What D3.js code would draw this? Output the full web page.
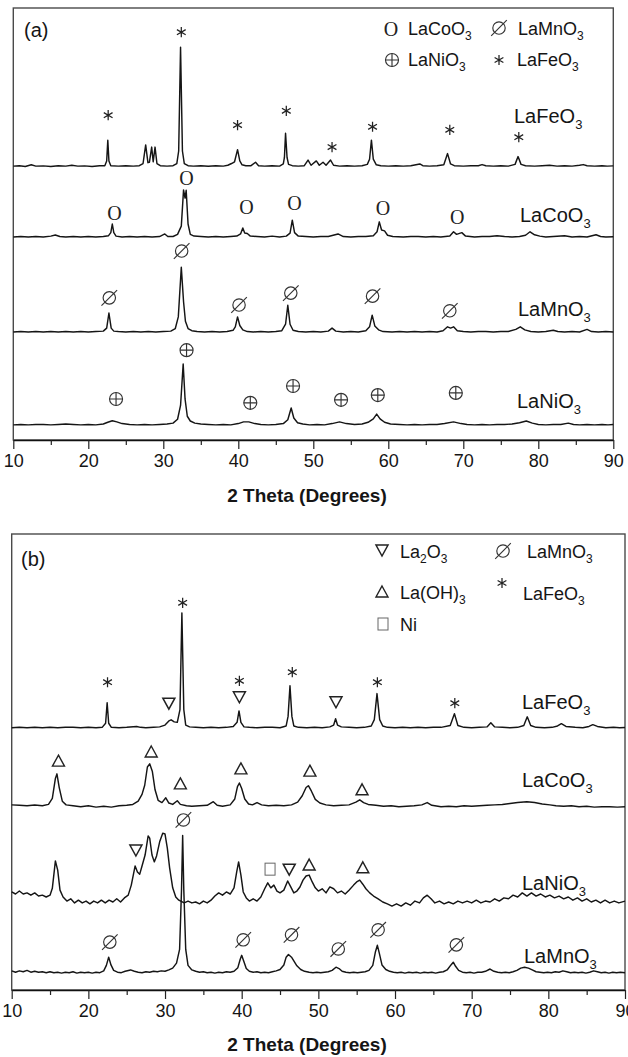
<!DOCTYPE html>
<html>
<head>
<meta charset="utf-8">
<script src="https://cdn.jsdelivr.net/npm/d3@7"></script>
<style>
  html, body { margin: 0; padding: 0; background: #fff; }
  svg { display: block; font-family: "Liberation Sans", Arial, sans-serif; }
</style>
</head>
<body>
<svg id="chart" width="628" height="1057"></svg>
<script>
// ---------- shared axis values ----------
const twoThetaDomain = [10, 90];
const majorTicks = [10, 20, 30, 40, 50, 60, 70, 80, 90];
const minorTicks = [15, 25, 35, 45, 55, 65, 75, 85];
const axisTitle = "2 Theta (Degrees)";

// ---------- panel (a): fresh perovskites ----------
// each pattern: [2θ, intensity above its own background] (a.u.)
const seriesA = ["LaFeO3", "LaCoO3", "LaMnO3", "LaNiO3"];
const offsetsA = [63.4, 47.0, 25.0, 3.5];

const feA = [[10,0],[10.8,0.1],[11.6,-0.1],[12.4,0.3],[13,0],[14,0.05],[15,-0.1],[16,0.1],[17,0],[17.8,0.2],[18.6,0],[19.5,0.05],[20.5,-0.1],[21.5,0.1],[22.2,0.1],[22.45,1.2],[22.6,6.0],[22.75,1.2],[23,0.1],[24,0],[25,0.1],[26,0],[26.8,0.1],[27.3,0.6],[27.65,4.9],[27.95,0.8],[28.15,0.9],[28.45,4.4],[28.65,1.0],[28.9,4.4],[29.15,0.6],[29.6,0.1],[30.5,0],[31.3,0.1],[31.8,0.6],[32.05,3.5],[32.3,27.5],[32.55,3.5],[32.8,0.6],[33.3,0.1],[34,0],[35,0.1],[36,-0.05],[37,0.1],[38,0],[38.6,0.2],[39.1,0.6],[39.5,1.0],[39.9,3.8],[40.2,1.2],[40.5,0.3],[41,0.1],[41.7,0.1],[42.3,0.9],[42.7,0.1],[43.5,0],[44.5,0.1],[45.5,0],[46,0.5],[46.15,2],[46.3,7.6],[46.5,2],[46.7,0.4],[47.2,0.1],[48,0],[48.8,0.1],[49.3,1.4],[49.7,0.2],[50.4,1.2],[50.8,0.2],[51.3,0.9],[51.7,0.2],[52.3,1.4],[52.7,0.2],[53.5,0],[54.5,0.1],[55.5,0],[56.5,0.1],[57.2,0.4],[57.5,1.6],[57.75,6.0],[58,1.6],[58.4,0.3],[59,0.1],[60,0],[61,0.1],[62,0],[63,0.1],[64.2,0.5],[64.6,0.1],[65.5,0],[66.5,0.1],[67.4,0.3],[67.9,2.9],[68.3,0.5],[68.8,0.1],[70,0],[71,0.1],[72,0.1],[72.5,0.35],[73,0.1],[74,0],[75,0.1],[76,0],[76.9,0.4],[77.3,2.2],[77.7,0.4],[78.3,0.1],[79.5,0],[80.5,0.1],[81.5,0.2],[82.5,0],[83.5,0.1],[84.5,0],[85.5,0.2],[86,0.35],[86.5,0.1],[87.5,0],[88.5,0.1],[89.2,0],[90,0.05]];

const coA = [[10,0],[11,0.1],[12,0],[13,0.1],[14,0],[15,0.2],[15.6,0.45],[16.2,0.1],[17,0],[18,0.1],[19,0],[20,0.1],[21,0],[22,0.1],[22.7,0.3],[23,1.0],[23.2,3.0],[23.4,1.0],[23.7,0.2],[24.5,0],[25.5,0.1],[26.5,0],[27.5,0.1],[28.5,0],[29.5,0.1],[30.2,0.7],[30.6,0.1],[31.3,0.1],[31.9,0.6],[32.4,2.5],[32.7,10.9],[32.9,9.0],[33.05,10.8],[33.3,3],[33.6,0.6],[34.1,0.2],[35,0.1],[36,0],[37,0.1],[38,0],[39,0.1],[39.8,0.2],[40.3,0.7],[40.6,2.1],[40.85,0.9],[41.2,0.8],[41.6,0.2],[42.5,0.1],[43.5,0],[44.5,0.2],[45.5,0],[46.4,0.2],[46.9,0.9],[47.2,3.9],[47.5,1.0],[48,0.2],[49,0.1],[50,0],[51,0.1],[52,0.1],[53.3,0.7],[54,0.1],[55,0],[56,0.1],[57,0.1],[58,0.3],[58.5,1.2],[58.8,3.5],[59.1,1.6],[59.5,1.4],[59.9,0.4],[60.6,0.1],[62,0],[63,0.1],[64,0.1],[65,0],[66,0.1],[67,0],[68.2,0.2],[68.7,1.2],[69.1,0.6],[69.8,1.0],[70.3,0.2],[71.5,0],[72.5,0.1],[73.5,0.1],[74.5,0.3],[75.5,0.1],[76.5,0],[77.5,0.1],[78.3,0.4],[78.9,1.2],[79.5,0.5],[80.2,0.2],[81,0],[82,0.1],[83.5,0.3],[84.5,0],[85.5,0.1],[86.5,0],[87.7,0.5],[88.3,0.1],[89,0],[90,0.05]];

const mnA = [[10,0],[11,0.1],[12,0],[13,0.1],[14,0],[15,0.1],[16,0],[17,0.1],[18,0],[19,0.1],[20,0],[21,0.1],[22,0.2],[22.45,0.9],[22.75,4.4],[23.05,0.9],[23.4,0.2],[24,0.1],[25,0],[26,0.1],[27,0],[28,0.1],[29,0],[30,0.1],[31,0.2],[31.6,0.8],[32,3.5],[32.4,15.0],[32.7,7],[32.95,2.5],[33.3,0.8],[33.8,0.3],[34.5,0.1],[35.5,0],[36.5,0.1],[37.5,0],[38.5,0.1],[39.3,0.4],[39.6,1.2],[39.9,3.5],[40.2,1.5],[40.6,0.5],[41.2,0.1],[42,0],[43,0.1],[44,0],[45,0.1],[45.8,0.3],[46.3,1.8],[46.6,6.2],[46.9,1.8],[47.3,0.4],[48,0.1],[49,0],[50,0.1],[51,0],[52,0.2],[52.5,0.9],[53,0.2],[54,0],[55,0.1],[56,0],[57,0.3],[57.5,1.2],[57.85,3.9],[58.2,1.4],[58.7,0.5],[59.3,0.1],[60.5,0],[61.5,0.1],[62.5,0],[63.5,0.1],[64.5,0],[65.5,0.1],[66.5,0],[67.3,0.3],[67.9,1.2],[68.3,0.9],[68.7,1.2],[69.2,0.3],[70,0.1],[71,0],[72,0.1],[73,0.1],[74,0],[75,0.1],[76,0.1],[77,0.6],[77.6,1.2],[78.2,0.5],[79,0.1],[80,0],[81,0.1],[82,0.4],[82.6,0.1],[83.5,0],[84.5,0.1],[85.5,0],[86.5,0.6],[87.1,0.1],[88,0],[89,0.1],[90,0]];

const niA = [[10,0],[11,0.1],[12,0],[13,0.1],[14,0.1],[15,0],[16,0.1],[17,0.2],[18,0.1],[19,0],[20,0.1],[21,0],[22,0.2],[22.6,0.6],[23.2,0.95],[23.8,0.7],[24.5,0.3],[25.5,0.1],[26.5,0],[27.5,0.1],[28.5,0],[29.5,0.1],[30.5,0.2],[31.3,0.4],[31.9,1.3],[32.3,4.5],[32.65,14.1],[32.9,6],[33.2,2.0],[33.6,0.9],[34.2,0.4],[35,0.2],[36,0.1],[37,0],[38,0.1],[39,0],[40,0.3],[40.7,0.7],[41.4,0.7],[42.2,0.3],[43,0.1],[44,0],[45,0.1],[46,0.3],[46.6,1.2],[47.05,3.9],[47.4,1.6],[47.9,0.5],[48.6,0.2],[49.5,0],[50.5,0.1],[51.5,0],[52.5,0.3],[53.5,0.7],[54.4,0.3],[55.5,0.1],[56.5,0.2],[57.3,0.6],[58,1.4],[58.45,2.5],[58.9,1.4],[59.5,0.6],[60.3,0.2],[61.5,0.1],[62.5,0],[63.5,0.1],[64.5,0],[65.5,0.1],[66.5,0.1],[67.5,0.3],[68.7,0.7],[69.7,0.3],[70.5,0.1],[71.5,0],[72.5,0.1],[73.5,0],[74.5,0.1],[75.5,0.1],[76.5,0.2],[77.5,0.5],[78.4,0.9],[79.2,0.4],[80,0.1],[81,0],[82,0.1],[83,0.1],[84,0.4],[84.7,0.1],[85.5,0],[86.5,0.1],[87.5,0],[88.5,0.1],[89.3,0],[90,0.1]];

// reflection markers, panel (a): [2θ, level] (a.u.)
const starA = [[22.65,75.2],[32.4,94.4],[39.9,72.9],[46.4,76.2],[52.5,67.8],[57.9,72.5],[68.2,71.8],[77.4,70.1]];
const ringA = [[23.5,52.5],[33.1,60.6],[41.1,53.9],[47.5,54.9],[59.3,53.7],[69.2,51.6]];
const slashA = [[22.8,32.9],[32.45,43.75],[40.1,31.25],[47.0,34.0],[57.9,33.3],[68.2,29.9]];
const oplusA = [[23.7,9.5],[33.1,20.8],[41.6,8.6],[47.3,12.5],[53.7,9.3],[58.6,10.4],[69.0,10.9]];

// ---------- panel (b): after reaction ----------
const seriesB = ["LaFeO3", "LaCoO3", "LaNiO3", "LaMnO3"];
const offsetsB = [57.5, 40.4, 19.3, 3.9];

const feB = [[10,0],[11,0.1],[12,0],[13,0.1],[14,0],[15,0.1],[16,0],[17,0.1],[18,0.1],[19,0],[20,0.1],[21,0],[21.8,0.1],[22.25,1.0],[22.45,5.5],[22.65,1.0],[23,0.1],[24,0],[25,0.1],[26.3,0.3],[26.8,0.1],[27.5,0],[28.5,0.1],[29.3,0.2],[30,0.6],[30.5,1.5],[30.8,1.75],[31.2,1.3],[31.6,1.2],[31.95,4],[32.2,25.2],[32.45,4],[32.7,0.6],[33.2,0.2],[34,0.1],[35,0],[36,0.1],[37,0],[38,0.1],[38.9,0.3],[39.4,1.2],[39.65,3.7],[39.9,1.2],[40.3,0.2],[41,0.1],[42,0],[43,0.1],[44,0.1],[45,0],[45.8,0.4],[46.05,2.5],[46.3,9.2],[46.55,2.5],[46.8,0.4],[47.4,0.1],[48.5,0],[49.5,0.1],[50.5,0],[51.5,0.2],[52,0.6],[52.25,2.0],[52.5,0.6],[53,0.2],[54,0.1],[55,0],[56,0.1],[56.9,0.4],[57.3,1.8],[57.65,7.5],[58,1.8],[58.4,0.4],[59,0.1],[60,0],[61,0.1],[62,0],[63,0.1],[64,0],[65,0.1],[66,0.1],[67.2,0.5],[67.75,3.1],[68.2,0.5],[69,0.1],[70,0],[71,0.1],[72,0.2],[72.5,1.1],[73,0.2],[74,0.1],[75,0],[76,0.1],[76.8,0.5],[77.25,2.4],[77.7,0.5],[78.4,0.1],[79.5,0],[80.5,0.1],[81.2,0.4],[81.7,0.9],[82.3,0.3],[83.5,0.1],[84.5,0],[85.3,0.3],[85.8,0.7],[86.4,0.3],[87.5,0],[88.5,0.1],[89.3,0],[90,0.05]];

const coB = [[10,0.2],[11,0.1],[12,0],[13,0.15],[14,0],[14.8,0.3],[15.3,1.6],[15.7,6.0],[15.9,7.0],[16.2,4.0],[16.6,1.0],[17.1,0.2],[18,0],[19,-0.2],[20,0],[21,-0.3],[22,-0.1],[23,-0.3],[24,0],[25,0.1],[25.8,0.3],[26.5,1.0],[27,2.5],[27.35,4.5],[27.7,8.5],[28,9.2],[28.35,7.5],[28.7,3.5],[29.1,1.2],[29.6,0.7],[30.1,1.75],[30.5,0.6],[31,0.3],[31.6,1.1],[32,0.3],[32.8,0],[33.5,-0.1],[34.5,0],[35.5,0.1],[36.3,0.9],[36.8,0.1],[37.5,-0.1],[38.5,0.2],[39.1,1.5],[39.45,4.2],[39.7,5.0],[40,3.8],[40.4,1.5],[40.9,0.4],[41.4,0.2],[42,0.7],[42.6,0.2],[43.5,0],[44.5,0.1],[45.5,0],[46.5,0.2],[47.3,0.8],[47.9,2.2],[48.4,4.0],[48.7,4.4],[49.1,3.2],[49.6,1.4],[50.2,0.6],[51,0.2],[52,0],[53,0.1],[54,0.2],[54.9,0.8],[55.4,1.3],[55.9,0.7],[56.5,0.3],[57.5,0.1],[58.5,-0.1],[59.5,0],[60.5,-0.2],[61.5,-0.1],[62.5,0],[63.5,0.2],[64.2,0.7],[64.8,0.1],[66,-0.2],[67,-0.1],[68,-0.2],[69,0],[70,-0.1],[71,0],[72,0.1],[73,0.2],[74,0.3],[75,0.5],[76,0.7],[77.2,0.9],[78.2,0.7],[79.2,0.4],[80.2,0.2],[81,0],[82,-0.1],[83,0],[84,-0.2],[85,-0.1],[86,-0.3],[87,-0.2],[88,-0.2],[89,-0.3],[90,-0.2]];

const niB = [[10,2.2],[10.5,1.75],[11,2.4],[11.5,1.75],[12,2.0],[12.5,1.5],[13,2.0],[13.5,1.3],[14,1.5],[14.5,1.1],[15,1.5],[15.3,3],[15.7,9.0],[16,7.0],[16.3,2.6],[16.7,1.1],[17.2,0.2],[17.7,0.7],[18.2,-0.2],[18.7,0.4],[19.2,-0.2],[19.7,0.2],[20.2,-0.4],[20.7,0.2],[21.2,-0.2],[21.7,0.4],[22.2,-0.2],[22.7,0.4],[23.2,0],[23.7,0.7],[24.2,0],[24.7,0.9],[25.2,1.5],[25.6,3.7],[26.1,7.9],[26.4,6.6],[26.7,6.1],[27,7.9],[27.4,10.3],[27.8,14.5],[28,14.0],[28.3,10.3],[28.6,8.8],[28.9,10.1],[29.3,13.2],[29.7,15.1],[30,14.9],[30.3,11.8],[30.6,7.5],[31,3.1],[31.4,1.1],[31.8,0.4],[32.5,-0.2],[33,0.2],[33.5,-0.2],[34,0],[34.5,-0.4],[35,0.2],[35.5,-0.2],[36,0.4],[36.5,1.3],[37,2.0],[37.5,1.5],[38,2.2],[38.5,1.75],[39,3.1],[39.35,6.6],[39.6,8.8],[39.9,5.9],[40.2,2.2],[40.6,0.9],[41,0.2],[41.5,0.7],[42,0.2],[42.5,1.1],[43,2.9],[43.4,4.2],[43.8,3.1],[44.2,3.7],[44.6,2.4],[45,2.0],[45.5,2.6],[46,4.6],[46.4,3.3],[46.8,2.0],[47.2,2.4],[47.6,3.3],[48,4.8],[48.4,5.7],[48.8,5.9],[49.2,4.4],[49.6,3.1],[50,2.4],[50.5,2.9],[51,2.0],[51.5,3.3],[52,2.9],[52.5,2.0],[53,2.4],[53.5,1.75],[54,2.6],[54.6,3.7],[55,4.4],[55.4,4.8],[55.8,3.9],[56.2,2.9],[56.7,2.0],[57.2,1.3],[57.8,0.7],[58.4,0],[59,-0.4],[59.6,-0.9],[60.2,-0.4],[60.8,-0.9],[61.4,-0.2],[62,-0.7],[62.6,0.2],[63.2,-0.2],[63.7,0.9],[64.2,1.5],[64.7,0.7],[65.2,-0.2],[65.8,0.2],[66.4,-0.4],[67,0],[67.6,-0.4],[68.2,0.2],[68.8,-0.2],[69.4,0.2],[70,-0.2],[70.6,0.4],[71.2,-0.2],[71.8,0.2],[72.4,0],[73,0.7],[73.6,0.2],[74.2,0.9],[74.8,0.7],[75.4,1.5],[76,1.1],[76.6,2.0],[77.2,1.3],[77.8,2.0],[78.4,1.3],[79,1.75],[79.6,1.1],[80.2,1.5],[80.8,0.9],[81.4,1.3],[82,0.7],[82.6,1.1],[83.2,0.4],[83.8,0.9],[84.4,0.2],[85,0.7],[85.6,0],[86.2,0.4],[86.8,-0.2],[87.4,0.4],[88,-0.2],[88.6,0.2],[89.2,-0.2],[90,0.2]];

const mnB = [[10,0.3],[10.5,0],[11,0.3],[11.5,0.1],[12,0.4],[12.5,0],[13,0.2],[13.5,0],[14,0.1],[14.5,-0.1],[15,0.1],[15.5,-0.1],[16,0],[16.5,-0.2],[17,0],[17.5,-0.1],[18,0.1],[18.5,-0.2],[19,0],[19.5,-0.1],[20,0],[20.5,-0.2],[21,0],[21.5,-0.1],[22,0.3],[22.35,1.5],[22.65,3.3],[22.95,1.6],[23.3,0.4],[23.8,0],[24.3,-0.1],[24.8,0.2],[25.5,0.5],[26,0.2],[26.5,0],[27,-0.1],[27.5,0.1],[28,0],[28.5,0.2],[29,0.1],[29.5,0.3],[30,0.2],[30.5,0.5],[31,0.9],[31.5,2],[31.9,5],[32.15,18],[32.3,30.0],[32.45,18],[32.7,5],[33,1.5],[33.5,0.5],[34,0.2],[34.5,0],[35,0.1],[35.5,-0.1],[36,0],[36.5,-0.2],[37,0],[37.5,-0.1],[38,0.1],[38.5,0],[39,0.2],[39.5,1.0],[39.8,2.8],[40,3.7],[40.25,2.5],[40.6,0.8],[41,0.2],[41.5,0],[42,0.1],[42.5,-0.1],[43,0],[43.5,-0.1],[44,0.1],[44.5,0.3],[45,0.6],[45.5,1.6],[45.8,3.3],[46.1,3.9],[46.5,3.3],[46.8,2.5],[47.2,1.4],[47.7,0.6],[48.2,0.2],[48.8,0],[49.3,-0.1],[49.8,0],[50.3,-0.1],[50.8,0],[51.3,0.1],[51.8,0.4],[52.3,1.1],[52.7,0.8],[53.1,0.2],[53.6,0],[54.1,-0.1],[54.6,0],[55.1,-0.1],[55.6,0],[56.1,0.1],[56.6,0.4],[57.1,1.5],[57.45,4.5],[57.7,5.9],[57.95,4.2],[58.3,1.6],[58.8,0.6],[59.3,0.2],[59.8,0],[60.3,-0.1],[60.8,0],[61.3,-0.2],[61.8,0],[62.3,-0.1],[62.8,0],[63.3,-0.2],[63.8,0],[64.3,-0.1],[64.8,0],[65.3,-0.2],[65.8,0],[66.3,0.1],[66.8,0.5],[67.3,1.6],[67.6,2.2],[67.9,1.3],[68.3,0.4],[68.8,0],[69.3,-0.1],[69.8,0],[70.3,-0.2],[70.8,0],[71.3,0],[71.8,0.2],[72.4,0.7],[72.9,0.2],[73.4,0],[73.9,-0.1],[74.4,0],[74.9,-0.1],[75.4,0.1],[75.9,0.4],[76.4,0.9],[76.9,1.1],[77.4,0.9],[77.9,0.5],[78.4,0.1],[78.9,0],[79.4,-0.1],[79.9,0],[80.4,-0.1],[80.9,0.1],[81.4,0],[81.9,0.3],[82.4,0.1],[82.9,-0.1],[83.4,0],[83.9,-0.1],[84.4,0],[84.9,-0.2],[85.4,0],[85.9,0.3],[86.4,0.1],[86.9,-0.1],[87.4,0],[87.9,-0.2],[88.4,0],[88.9,-0.1],[89.4,0],[90,-0.1]];

// reflection markers, panel (b): [2θ, level] (a.u.)
const starB = [[22.5,67.5],[32.3,84.9],[39.7,67.8],[46.6,69.7],[57.7,67.5],[67.8,62.9]];
const nablaB = [[30.5,62.9],[39.7,64.3],[52.3,63.2],[26.2,30.7],[46.2,26.5]];
const deltaB = [[16.1,50.2],[28.2,52.2],[32.0,45.2],[39.9,48.5],[48.9,48.0],[55.7,43.9],[48.8,27.4],[55.8,26.8]];
const squareB = [[43.7,26.5]];
const slashB = [[22.8,10.5],[32.4,37.3],[40.2,11.0],[46.5,12.1],[52.6,9.0],[57.8,13.2],[68.0,9.9]];

// ---------- drawing ----------
const svg = d3.select("#chart");
svg.append("rect").attr("width", 628).attr("height", 1057).attr("fill", "#fff");

const INK = "#151515";

// marker glyphs, each drawn centred on (0,0)
const markerDraw = {
  star(g) {
    g.append("path").attr("d", d3.symbol(d3.symbolAsterisk, 72)())
      .attr("fill", "none").attr("stroke", "#222").attr("stroke-width", 1.25);
  },
  ring(g) {
    g.append("text").text("O").attr("text-anchor", "middle").attr("dy", "0.36em")
      .attr("font-family", "'Liberation Serif', 'Times New Roman', serif")
      .attr("font-size", 20).attr("fill", "#222");
  },
  slash(g) {
    g.append("circle").attr("r", 6.2).attr("fill", "none").attr("stroke", "#333").attr("stroke-width", 1.15);
    g.append("line").attr("x1", -7.8).attr("y1", 7.8).attr("x2", 7.8).attr("y2", -7.8)
      .attr("stroke", "#333").attr("stroke-width", 1.15);
  },
  oplus(g) {
    g.append("circle").attr("r", 6.5).attr("fill", "none").attr("stroke", "#333").attr("stroke-width", 1.15);
    g.append("path").attr("d", "M-6.5,0H6.5M0,-6.5V6.5").attr("stroke", "#333").attr("stroke-width", 1.15);
  },
  nabla(g) {
    g.append("path").attr("d", "M-6,-5L6,-5L0,6Z").attr("fill", "none")
      .attr("stroke", "#222").attr("stroke-width", 1.5).attr("stroke-linejoin", "miter");
  },
  delta(g) {
    g.append("path").attr("d", "M0,-6L6,5L-6,5Z").attr("fill", "none")
      .attr("stroke", "#222").attr("stroke-width", 1.4).attr("stroke-linejoin", "miter");
  },
  square(g) {
    g.append("rect").attr("x", -5).attr("y", -6).attr("width", 10).attr("height", 12)
      .attr("fill", "none").attr("stroke", "#666").attr("stroke-width", 1);
  }
};

function placeMarker(parent, kind, x, y) {
  const g = parent.append("g").attr("transform", `translate(${x},${y})`);
  markerDraw[kind](g);
}

// chemical formula: digits are set as lowered, smaller subscripts
function formula(parent, name, x, y, size, subSize, subDy) {
  const t = parent.append("text").attr("x", x).attr("y", y)
    .attr("font-size", size).attr("fill", INK);
  const parts = name.match(/\d+|[^\d]+/g);
  let lowered = false;
  parts.forEach(p => {
    const isSub = /^\d+$/.test(p);
    const span = t.append("tspan").text(p);
    if (isSub) {
      span.attr("font-size", subSize).attr("dy", lowered ? 0 : subDy);
      lowered = true;
    } else {
      if (lowered) span.attr("dy", -subDy);
      lowered = false;
    }
  });
  return t;
}

function drawPanel(cfg) {
  const g = svg.append("g");
  const x = d3.scaleLinear().domain(twoThetaDomain).range([cfg.left, cfg.right]);
  const y = d3.scaleLinear().domain([0, 100]).range([cfg.bottom, cfg.top]);

  // frame
  g.append("rect").attr("x", cfg.left).attr("y", cfg.top)
    .attr("width", cfg.right - cfg.left).attr("height", cfg.bottom - cfg.top)
    .attr("fill", "none").attr("stroke", "#4a4a4a").attr("stroke-width", 1.4);

  // patterns
  const line = d3.line().x(d => x(d[0])).y(d => y(d[1]));
  cfg.traces.forEach((tr, i) => {
    const pts = tr.map(d => [d[0], d[1] + cfg.offsets[i]]);
    g.append("path").attr("d", line(pts)).attr("fill", "none")
      .attr("stroke", INK).attr("stroke-width", 1.45).attr("stroke-linejoin", "round");
  });

  // reflection markers
  cfg.markers.forEach(m => {
    m.data.forEach(d => placeMarker(g, m.kind, x(d[0]), y(d[1])));
  });

  // bottom axis: major ticks with labels, minor ticks without
  const axisG = g.append("g").attr("transform", `translate(0,${cfg.bottom})`);
  axisG.call(d3.axisBottom(x).tickValues(majorTicks).tickSize(9).tickSizeOuter(0).tickPadding(5)
    .tickFormat(d3.format("d")));
  axisG.append("g").call(d3.axisBottom(x).tickValues(minorTicks).tickSize(5).tickSizeOuter(0).tickFormat(""))
    .select(".domain").remove();
  axisG.selectAll("path.domain").attr("stroke", "#111").attr("stroke-width", 1.4);
  axisG.selectAll(".tick line").attr("stroke", "#222").attr("stroke-width", 1.2);
  axisG.selectAll(".tick text").attr("font-size", 18).attr("fill", INK)
    .attr("font-family", "'Liberation Sans', Arial, sans-serif");

  // axis title
  g.append("text").attr("x", cfg.titleX).attr("y", cfg.titleY).attr("text-anchor", "middle")
    .attr("font-size", 19).attr("font-weight", "bold").attr("fill", INK).text(axisTitle);

  // panel tag
  g.append("text").attr("x", cfg.tag.x).attr("y", cfg.tag.y).attr("font-size", 20)
    .attr("fill", INK).text(cfg.tag.text);

  // series names beside each pattern
  cfg.names.forEach((name, i) => {
    const pos = cfg.namePos[i];
    formula(g, name, pos[0], pos[1], 20, 13, 6);
  });

  // legend
  cfg.legend.forEach(it => {
    placeMarker(g, it.kind, it.mx, it.my);
    formula(g, it.label, it.tx, it.ty, 18, 12, 5);
  });
}

drawPanel({
  left: 13.3, right: 613.3, top: 8, bottom: 440,
  titleX: 307, titleY: 502,
  tag: { text: "(a)", x: 24, y: 37 },
  traces: [feA, coA, mnA, niA],
  offsets: offsetsA,
  names: seriesA,
  namePos: [[514, 123], [520, 222], [518, 316], [517, 408]],
  markers: [
    { kind: "star", data: starA },
    { kind: "ring", data: ringA },
    { kind: "slash", data: slashA },
    { kind: "oplus", data: oplusA }
  ],
  legend: [
    { kind: "ring", label: "LaCoO3", mx: 391, my: 29, tx: 408, ty: 35 },
    { kind: "slash", label: "LaMnO3", mx: 499, my: 28, tx: 518, ty: 35 },
    { kind: "oplus", label: "LaNiO3", mx: 392, my: 60, tx: 408, ty: 66 },
    { kind: "star", label: "LaFeO3", mx: 499, my: 60, tx: 517, ty: 66 }
  ]
});

drawPanel({
  left: 11.7, right: 625, top: 534, bottom: 990,
  titleX: 307, titleY: 1051,
  tag: { text: "(b)", x: 21, y: 566 },
  traces: [feB, coB, niB, mnB],
  offsets: offsetsB,
  names: seriesB,
  namePos: [[522, 709], [522, 787], [522, 890], [524, 963]],
  markers: [
    { kind: "star", data: starB },
    { kind: "nabla", data: nablaB },
    { kind: "delta", data: deltaB },
    { kind: "square", data: squareB },
    { kind: "slash", data: slashB }
  ],
  legend: [
    { kind: "nabla", label: "La2O3", mx: 382, my: 550, tx: 400, ty: 558 },
    { kind: "slash", label: "LaMnO3", mx: 503, my: 551, tx: 527, ty: 558 },
    { kind: "delta", label: "La(OH)3", mx: 382, my: 592, tx: 400, ty: 599 },
    { kind: "star", label: "LaFeO3", mx: 502, my: 583, tx: 523, ty: 600 },
    { kind: "square", label: "Ni", mx: 383, my: 624, tx: 400, ty: 631 }
  ]
});
</script>
</body>
</html>
